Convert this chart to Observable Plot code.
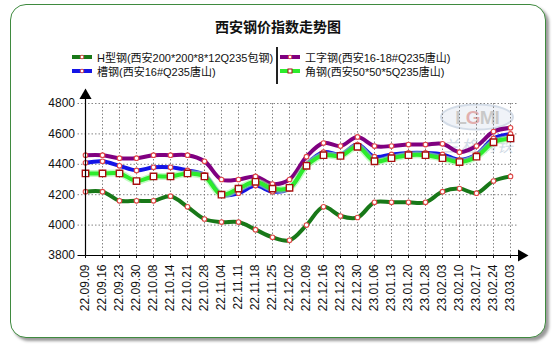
<!DOCTYPE html>
<html><head><meta charset="utf-8">
<script src="https://cdn.jsdelivr.net/npm/d3@7"></script>
<script src="https://cdn.jsdelivr.net/npm/@observablehq/plot@0.6"></script>
<style>
body{margin:0;width:556px;height:348px;position:relative;background:#fff;font-family:"Liberation Sans",Arial,"Noto Sans CJK SC",sans-serif;overflow:hidden}
#box{position:absolute;left:10px;top:4px;width:534px;height:332px;border:1.5px solid #3f8a3f;border-radius:16px;box-shadow:3px 3px 3px #9a9a9a;background:#fff}
#title{position:absolute;left:0;width:556px;top:16px;text-align:center;font:bold 14px "Noto Sans CJK SC",sans-serif;color:#111}
.leg{position:absolute;font-size:11px;color:#111;white-space:nowrap;display:flex;align-items:center;height:14px;font-family:"Liberation Sans",Arial,"Noto Sans CJK SC",sans-serif}
.leg svg{margin-right:5px}
#sep{position:absolute;left:276px;top:47px;width:1.5px;height:37px;background:#222}
#wm{position:absolute;left:436px;top:100px;opacity:0.45}
#chart{position:absolute;left:0;top:88px}
</style></head><body>
<div id="box"></div>
<div id="title">西安钢价指数走势图</div>
<div id="legend"></div>
<div id="sep"></div>
<svg id="wm" width="90" height="60">
  <ellipse cx="41" cy="17" rx="36" ry="12.5" fill="#dfe6f0" stroke="#9fb2cc" stroke-width="2"/>
  <text x="41" y="24" text-anchor="middle" font-family="Liberation Sans, Arial" font-weight="bold" font-size="19" fill="#8a8a8a" letter-spacing="-1">L<tspan fill="#c05050">G</tspan>MI</text>
  <text x="43" y="52" text-anchor="middle" font-family="Noto Sans CJK SC" font-size="16" fill="#9ab0c8" font-style="italic" letter-spacing="2">兰格钢铁</text>
</svg>
<div id="chart"></div>
<script>
const dates = ["22.09.09","22.09.16","22.09.23","22.09.30","22.10.08","22.10.14","22.10.21","22.10.28","22.11.04","22.11.11","22.11.18","22.11.25","22.12.02","22.12.09","22.12.16","22.12.23","22.12.30","23.01.06","23.01.13","23.01.20","23.01.28","23.02.03","23.02.10","23.02.17","23.02.24","23.03.03"];
const seriesNames = ["H型钢(西安200*200*8*12Q235包钢)","工字钢(西安16-18#Q235唐山)","槽钢(西安16#Q235唐山)","角钢(西安50*50*5Q235唐山)"];
const hSteel   = [4220,4220,4160,4160,4160,4190,4120,4040,4020,4020,3970,3920,3900,4000,4120,4060,4050,4150,4150,4150,4150,4220,4240,4210,4290,4320];
const iBeam    = [4460,4460,4440,4440,4460,4460,4460,4420,4300,4300,4320,4270,4300,4450,4540,4520,4580,4520,4520,4530,4530,4535,4480,4520,4615,4640];
const channel  = [4410,4420,4390,4360,4380,4380,4360,4330,4200,4210,4260,4220,4240,4400,4480,4465,4530,4450,4465,4475,4475,4465,4430,4465,4570,4600];
const angle    = [4340,4340,4340,4290,4320,4320,4340,4320,4200,4240,4285,4240,4245,4390,4460,4455,4515,4420,4440,4460,4460,4440,4415,4450,4545,4570];
const yTicks = [3800,4000,4200,4400,4600,4800];
const colors = ["#187818","#800080","#1414e6","#2cec2c"];

const allValues = [hSteel, iBeam, channel, angle];
const rows = allValues.map((vals, s) => vals.map((v, i) => ({date: dates[i], value: v, series: seriesNames[s]})));

// legend
const legPos = [[72,50],[280,50],[72,64],[280,64]];
const legend = document.getElementById("legend");
seriesNames.forEach((name, s) => {
  const d = document.createElement("div");
  d.className = "leg";
  d.style.left = legPos[s][0] + "px";
  d.style.top = legPos[s][1] + "px";
  const marker = s === 3
    ? `<rect x="8" y="4" width="4" height="4" fill="#fff" stroke="#a01010" stroke-width="1"/>`
    : `<circle cx="10" cy="6" r="1.8" fill="#fff" stroke="#e05050" stroke-width="1"/>`;
  d.innerHTML = `<svg width="20" height="12"><line x1="0" y1="6" x2="20" y2="6" stroke="${colors[s]}" stroke-width="4"/>${marker}</svg><span>${name}</span>`;
  legend.appendChild(d);
});

const font = "Liberation Sans, Arial, sans-serif";
const chart = Plot.plot({
  width: 556,
  height: 260,
  marginLeft: 77.5,
  marginRight: 38.7,
  marginTop: 15,
  marginBottom: 93,
  style: {background: "transparent", fontFamily: font, fontSize: "12px", color: "#111", overflow: "visible"},
  x: {type: "point", domain: dates, padding: 0},
  y: {domain: [3800, 4800]},
  marks: [
    Plot.gridX(dates, {stroke: "#777", strokeOpacity: 0.9, strokeDasharray: "1.5,2"}),
    Plot.gridY(yTicks.slice(1), {stroke: "#777", strokeOpacity: 0.9, strokeDasharray: "1.5,2"}),
    Plot.line(rows[0], {x: "date", y: "value", stroke: colors[0], strokeWidth: 4, curve: "catmull-rom"}),
    Plot.line(rows[1], {x: "date", y: "value", stroke: colors[1], strokeWidth: 4, curve: "catmull-rom"}),
    Plot.line(rows[2], {x: "date", y: "value", stroke: colors[2], strokeWidth: 4, curve: "catmull-rom"}),
    Plot.line(rows[3], {x: "date", y: "value", stroke: "#9cf79c", strokeWidth: 7, strokeOpacity: 0.6, curve: "catmull-rom"}),
    Plot.line(rows[3], {x: "date", y: "value", stroke: colors[3], strokeWidth: 4, curve: "catmull-rom"}),
    Plot.dot(rows.slice(0,3).flat(), {x: "date", y: "value", r: 2.3, fill: "#fff", stroke: "#e04848", strokeWidth: 1.1}),
    Plot.dot(rows[3], {x: "date", y: "value", symbol: "square", r: 3.6, fill: "#fff", stroke: "#a81010", strokeWidth: 1.4}),
    Plot.ruleX([dates[0]], {stroke: "#000", strokeWidth: 1.2, insetTop: -4}),
    Plot.ruleY([3800], {stroke: "#000", strokeWidth: 1.2, insetRight: -7}),
    Plot.dot([{x: dates[0], y: 4800}], {x: "x", y: "y", symbol: "triangle", r: 4.5, fill: "#000", stroke: null, dy: -8}),
    Plot.dot([{x: dates[dates.length-1], y: 3800}], {x: "x", y: "y", symbol: "triangle", r: 4.5, fill: "#000", stroke: null, rotate: 90, dx: 11}),
    Plot.axisY({ticks: yTicks, tickSize: 0, tickPadding: 3, fontSize: 12, tickFormat: d => String(d)}),
    Plot.axisX({tickRotate: -90, tickSize: 3, tickPadding: 6, fontSize: 12})
  ]
});
document.getElementById("chart").appendChild(chart);
</script>
</body></html>
